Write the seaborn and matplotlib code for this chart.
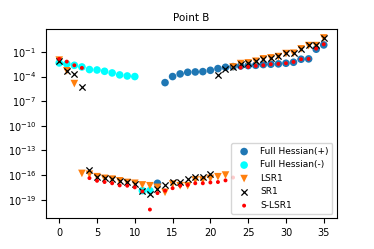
import numpy as np
import pandas as pd
import matplotlib
matplotlib.use("Agg")
import matplotlib.pyplot as plt
import seaborn as sns

# log10 values
idx = list(range(36))

fh_plus_x = [13] + list(range(14, 36))
fh_plus_log = [-17.0, -4.74, -4.0, -3.68, -3.48, -3.44, -3.4, -3.24, -3.03, -2.87, -2.79,
               -2.71, -2.67, -2.63, -2.54, -2.5, -2.46, -2.38, -2.26, -1.89, -1.85, -0.67, -0.15]

fh_minus_x = list(range(0, 13))
fh_minus_log = [-2.34, -2.46, -2.63, -2.83, -3.15, -3.2, -3.36, -3.56, -3.8, -3.93, -4.0,
                -17.9, -17.9]

lsr1_log = [-2.0, -3.3, -4.86, -15.8, -15.9, -16.2, -16.4, -16.5, -16.7, -16.9, -17.0,
            -17.2, -17.3, -17.5, -18.1, -17.1, -17.3, -17.3, -16.6, -16.6, -16.4, -16.2,
            -16.0, -2.83, -2.42, -2.34, -2.14, -1.85, -1.73, -1.57, -1.2, -1.16, -0.63,
            -0.23, -0.23, 0.7]

sr1_log = [-2.14, -3.36, -3.72, -5.27, -15.35, -16.2, -16.3, -16.5, -16.7, -16.85, -17.05,
           -17.95, -18.36, -17.67, -17.26, -16.9, -16.9, -16.5, -16.2, -16.2, -15.9, -3.85,
           -3.1, -2.83, -2.42, -2.3, -2.1, -1.85, -1.7, -1.53, -1.16, -1.12, -0.6, -0.19,
           -0.19, 0.7]

slsr1_log = [-1.85, -2.18, -2.63, -2.95, -16.37, -16.7, -16.85, -17.0, -17.26, -17.3, -17.5,
             -18.0, -20.2, -18.2, -17.9, -17.6, -17.3, -17.2, -17.0, -17.0, -16.9, -16.85,
             -16.65, -16.3, -2.91, -2.83, -2.71, -2.63, -2.5, -2.46, -2.38, -2.22, -1.89,
             -1.85, -0.6, -0.07]

plt.rcParams['font.family'] = ['DejaVu Sans']
plt.rcParams['font.size'] = 7

fig, ax = plt.subplots(figsize=(3.74, 2.49), dpi=100)
fig.subplots_adjust(left=0.123, right=0.901, bottom=0.124, top=0.882)

sns.scatterplot(x=fh_plus_x, y=10.0 ** np.array(fh_plus_log), ax=ax, color='#1f77b4',
                marker='o', s=30, edgecolor='none', label='Full Hessian(+)')
sns.scatterplot(x=fh_minus_x, y=10.0 ** np.array(fh_minus_log), ax=ax, color='cyan',
                marker='o', s=30, edgecolor='none', label='Full Hessian(-)')
sns.scatterplot(x=idx, y=10.0 ** np.array(lsr1_log), ax=ax, color='#ff7f0e',
                marker='v', s=30, edgecolor='none', label='LSR1')
sns.scatterplot(x=idx, y=10.0 ** np.array(sr1_log), ax=ax, color='black',
                marker='x', s=20, linewidth=0.9, label='SR1')
sns.scatterplot(x=idx, y=10.0 ** np.array(slsr1_log), ax=ax, color='red',
                marker='o', s=8, edgecolor='none', label='S-LSR1')

ax.set_yscale('log')
ax.set_yticks([10.0 ** k for k in range(-19, 0, 3)])
ax.yaxis.set_minor_locator(matplotlib.ticker.NullLocator())
ax.set_xticks([0, 5, 10, 15, 20, 25, 30, 35])
ax.set_title('Point B', fontsize=7.5)
ax.legend(loc='lower right', fontsize=6.5)

fig.savefig('out.png', dpi=100)
